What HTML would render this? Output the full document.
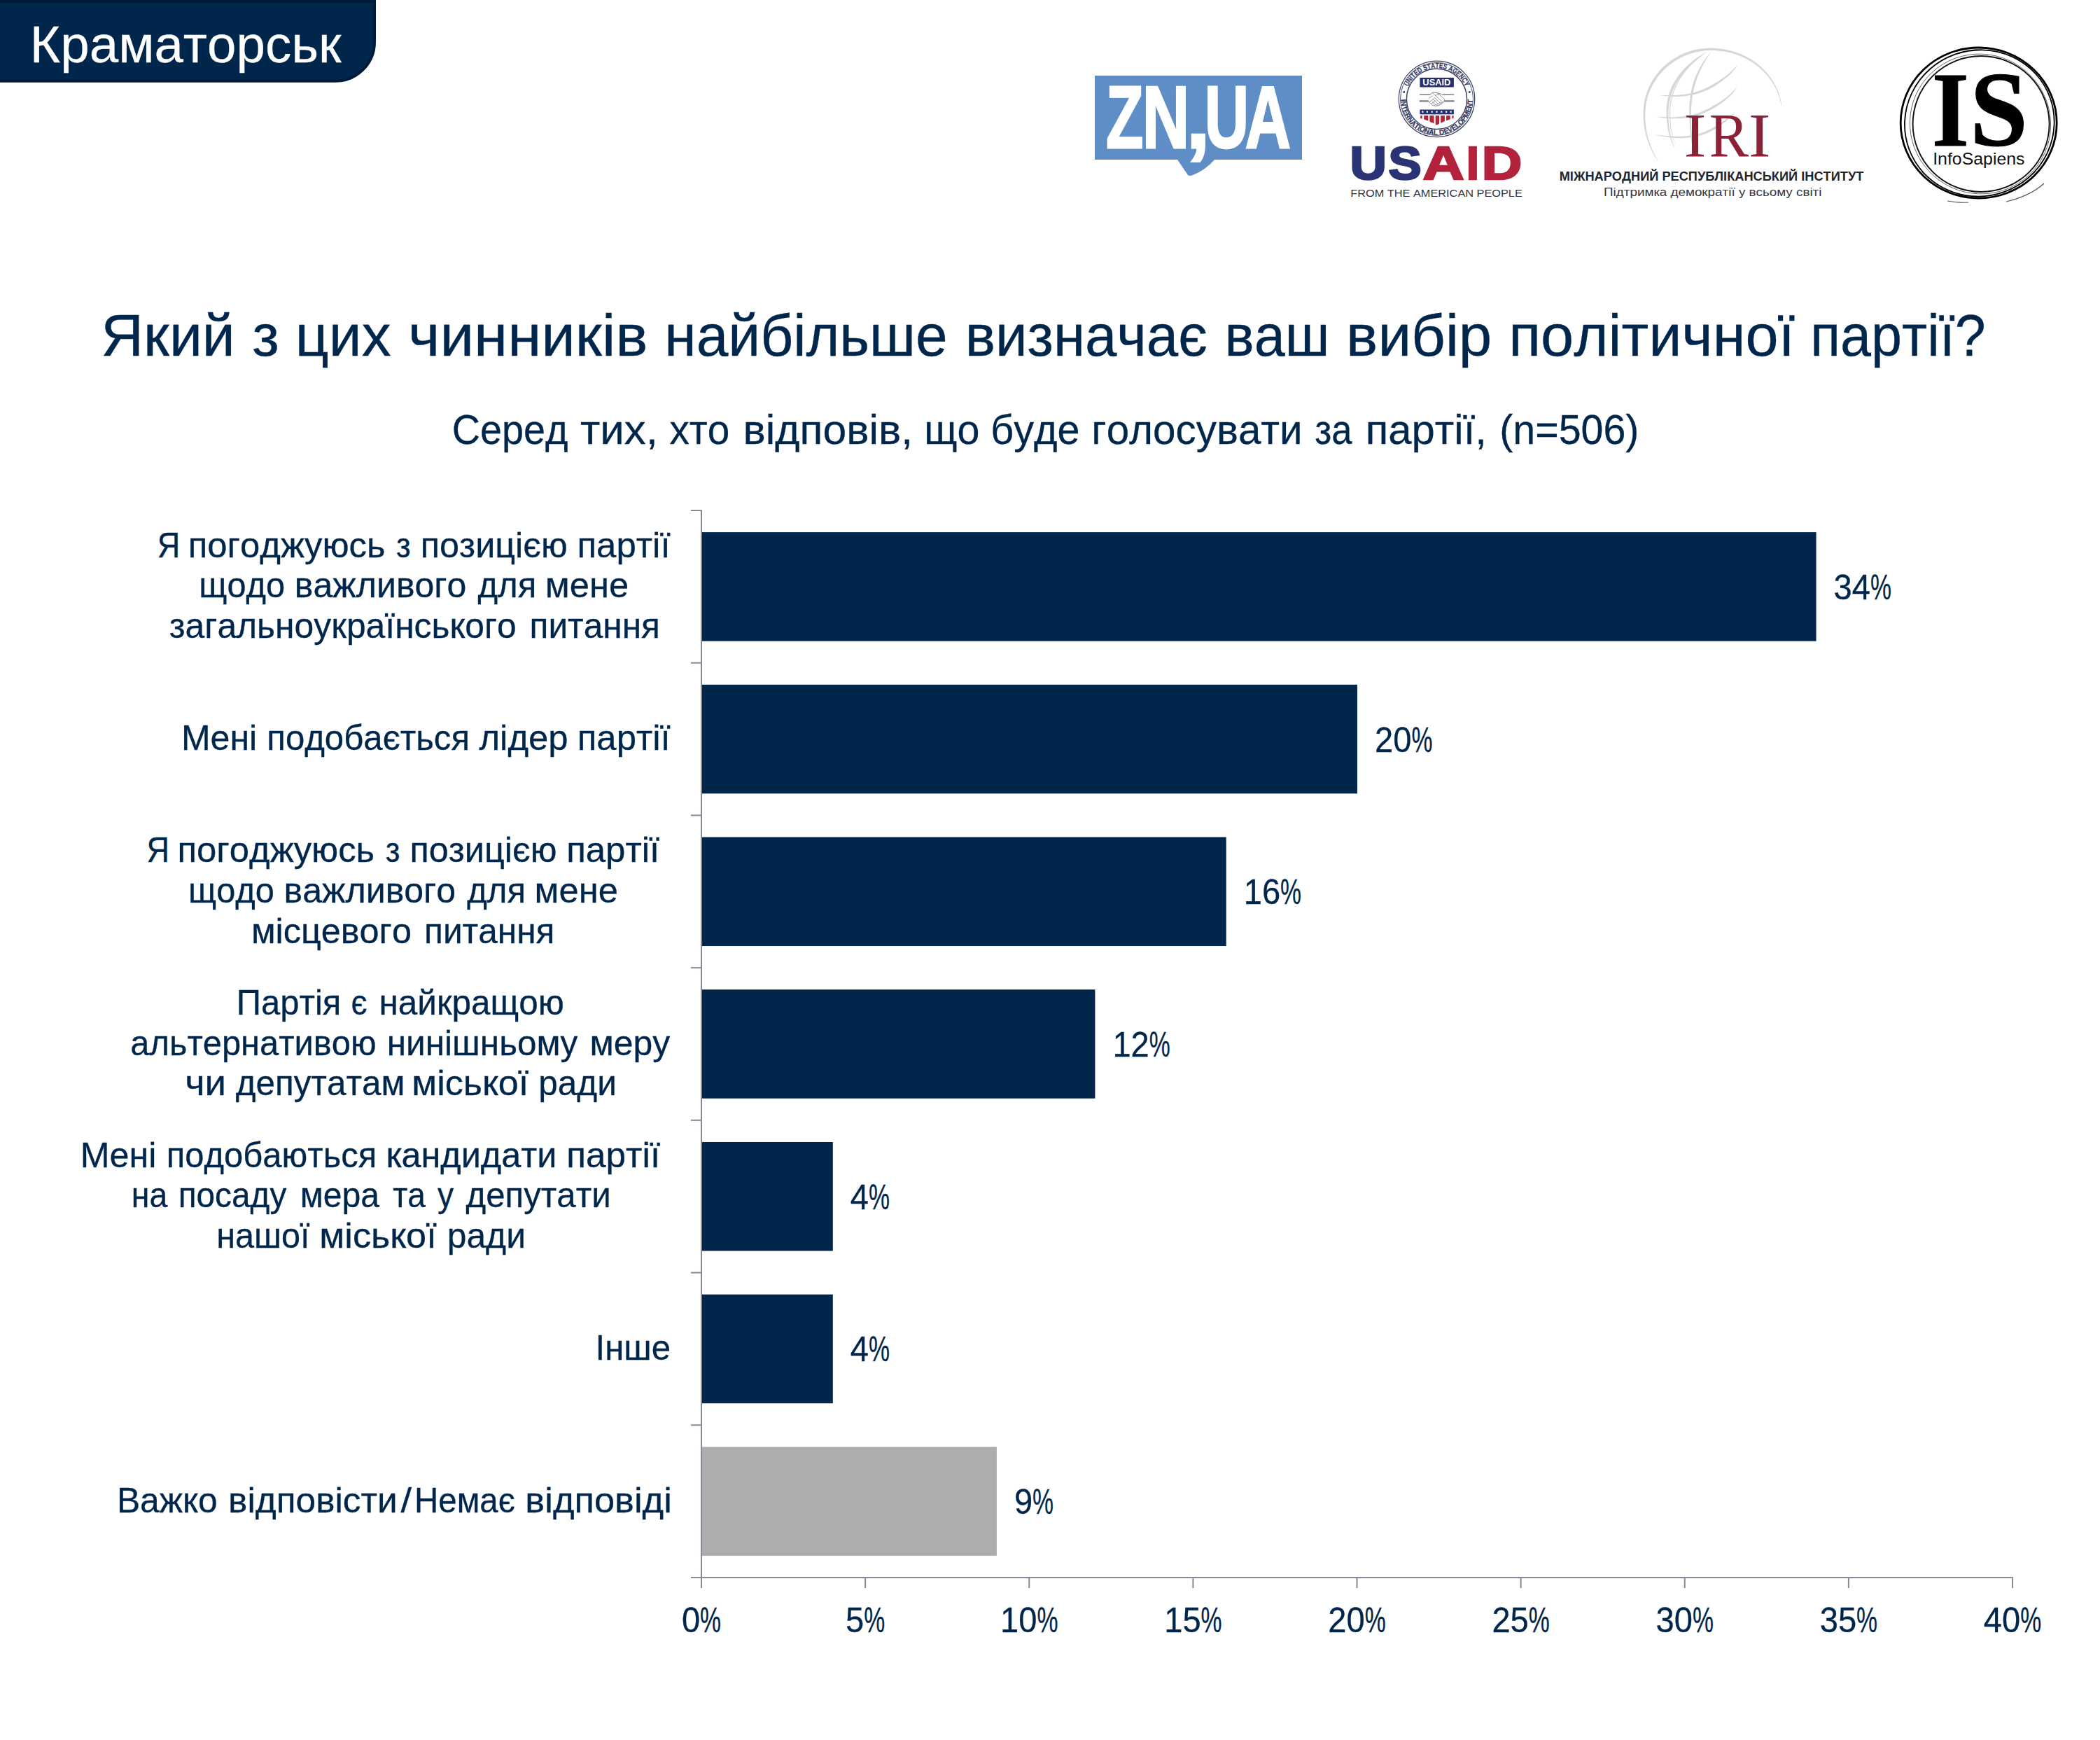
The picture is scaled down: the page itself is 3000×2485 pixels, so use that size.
<!DOCTYPE html>
<html lang="uk"><head><meta charset="utf-8"><title>Краматорськ</title>
<style>
html,body{margin:0;padding:0;background:#fff}
body{width:3000px;height:2485px;overflow:hidden}
svg{display:block}
text{white-space:pre;font-kerning:none;font-variant-ligatures:none}
</style></head><body>
<svg width="3000" height="2485" viewBox="0 0 3000 2485">
<rect width="3000" height="2485" fill="#fff"/>

<path d="M-10 1.9 H535.2 V59.9 A56 56 0 0 1 479.2 115.9 H-10 Z" fill="#00264b" stroke="#001a38" stroke-width="3.6"/>
<text transform="translate(42.78 88.90) scale(0.9942 1)" font-family="'Liberation Sans', sans-serif" font-size="75" fill="#fff" stroke="#fff" stroke-width="0.25">Краматорськ</text>
<text y="507.60" font-family="'Liberation Sans', sans-serif" font-size="83.33" fill="#00264b" stroke="#00264b" stroke-width="0.35"><tspan x="144.36" textLength="191.47" lengthAdjust="spacingAndGlyphs">Який</tspan> <tspan x="360.29" textLength="38.58" lengthAdjust="spacingAndGlyphs">з</tspan> <tspan x="421.89" textLength="136.71" lengthAdjust="spacingAndGlyphs">цих</tspan> <tspan x="583.12" textLength="342.37" lengthAdjust="spacingAndGlyphs">чинників</tspan> <tspan x="949.31" textLength="404.34" lengthAdjust="spacingAndGlyphs">найбільше</tspan> <tspan x="1378.64" textLength="346.25" lengthAdjust="spacingAndGlyphs">визначає</tspan> <tspan x="1749.50" textLength="150.01" lengthAdjust="spacingAndGlyphs">ваш</tspan> <tspan x="1923.09" textLength="208.20" lengthAdjust="spacingAndGlyphs">вибір</tspan> <tspan x="2155.13" textLength="409.00" lengthAdjust="spacingAndGlyphs">політичної</tspan> <tspan x="2586.22" textLength="250.52" lengthAdjust="spacingAndGlyphs">партії?</tspan></text>
<text y="633.60" font-family="'Liberation Sans', sans-serif" font-size="58.33" fill="#00264b" stroke="#00264b" stroke-width="0.3"><tspan x="645.77" textLength="165.78" lengthAdjust="spacingAndGlyphs">Серед</tspan> <tspan x="828.94" textLength="110.91" lengthAdjust="spacingAndGlyphs">тих,</tspan> <tspan x="956.46" textLength="85.92" lengthAdjust="spacingAndGlyphs">хто</tspan> <tspan x="1061.49" textLength="242.56" lengthAdjust="spacingAndGlyphs">відповів,</tspan> <tspan x="1320.32" textLength="79.19" lengthAdjust="spacingAndGlyphs">що</tspan> <tspan x="1415.23" textLength="127.33" lengthAdjust="spacingAndGlyphs">буде</tspan> <tspan x="1559.36" textLength="301.29" lengthAdjust="spacingAndGlyphs">голосувати</tspan> <tspan x="1878.14" textLength="53.27" lengthAdjust="spacingAndGlyphs">за</tspan> <tspan x="1950.74" textLength="173.24" lengthAdjust="spacingAndGlyphs">партії,</tspan> <tspan x="2142.14" textLength="199.31" lengthAdjust="spacingAndGlyphs">(n=506)</tspan></text>
<rect x="1003.00" y="760.10" width="1591.55" height="155.51" fill="#00264b"/>
<rect x="1003.00" y="977.82" width="936.00" height="155.51" fill="#00264b"/>
<rect x="1003.00" y="1195.53" width="748.70" height="155.51" fill="#00264b"/>
<rect x="1003.00" y="1413.24" width="561.40" height="155.51" fill="#00264b"/>
<rect x="1003.00" y="1630.96" width="186.80" height="155.51" fill="#00264b"/>
<rect x="1003.00" y="1848.67" width="186.80" height="155.51" fill="#00264b"/>
<rect x="1003.00" y="2066.39" width="420.92" height="155.51" fill="#adadaf"/>
<g stroke="#868a96" stroke-width="2" fill="none">
<path d="M1002.0 728.0 V2268.0"/>
<path d="M987.0 2253.0 H2876.0"/>
<path d="M987.0 729.00 H1002.0"/>
<path d="M987.0 946.71 H1002.0"/>
<path d="M987.0 1164.43 H1002.0"/>
<path d="M987.0 1382.14 H1002.0"/>
<path d="M987.0 1599.86 H1002.0"/>
<path d="M987.0 1817.57 H1002.0"/>
<path d="M987.0 2035.29 H1002.0"/>
<path d="M1236.12 2253.0 V2268.0"/>
<path d="M1470.25 2253.0 V2268.0"/>
<path d="M1704.38 2253.0 V2268.0"/>
<path d="M1938.50 2253.0 V2268.0"/>
<path d="M2172.62 2253.0 V2268.0"/>
<path d="M2406.75 2253.0 V2268.0"/>
<path d="M2640.88 2253.0 V2268.0"/>
<path d="M2875.00 2253.0 V2268.0"/>
</g>
<text y="2331.0" font-family="'Liberation Sans', sans-serif" font-size="50" fill="#00264b" stroke="#00264b" stroke-width="0.3"><tspan x="973.9" textLength="26.2" lengthAdjust="spacingAndGlyphs">0</tspan><tspan x="1000.1" textLength="30.0" lengthAdjust="spacingAndGlyphs">%</tspan></text>
<text y="2331.0" font-family="'Liberation Sans', sans-serif" font-size="50" fill="#00264b" stroke="#00264b" stroke-width="0.3"><tspan x="1208.0" textLength="26.2" lengthAdjust="spacingAndGlyphs">5</tspan><tspan x="1234.2" textLength="30.0" lengthAdjust="spacingAndGlyphs">%</tspan></text>
<text y="2331.0" font-family="'Liberation Sans', sans-serif" font-size="50" fill="#00264b" stroke="#00264b" stroke-width="0.3"><tspan x="1429.0" textLength="52.4" lengthAdjust="spacingAndGlyphs">10</tspan><tspan x="1481.5" textLength="30.0" lengthAdjust="spacingAndGlyphs">%</tspan></text>
<text y="2331.0" font-family="'Liberation Sans', sans-serif" font-size="50" fill="#00264b" stroke="#00264b" stroke-width="0.3"><tspan x="1663.2" textLength="52.4" lengthAdjust="spacingAndGlyphs">15</tspan><tspan x="1715.6" textLength="30.0" lengthAdjust="spacingAndGlyphs">%</tspan></text>
<text y="2331.0" font-family="'Liberation Sans', sans-serif" font-size="50" fill="#00264b" stroke="#00264b" stroke-width="0.3"><tspan x="1897.3" textLength="52.4" lengthAdjust="spacingAndGlyphs">20</tspan><tspan x="1949.7" textLength="30.0" lengthAdjust="spacingAndGlyphs">%</tspan></text>
<text y="2331.0" font-family="'Liberation Sans', sans-serif" font-size="50" fill="#00264b" stroke="#00264b" stroke-width="0.3"><tspan x="2131.4" textLength="52.4" lengthAdjust="spacingAndGlyphs">25</tspan><tspan x="2183.8" textLength="30.0" lengthAdjust="spacingAndGlyphs">%</tspan></text>
<text y="2331.0" font-family="'Liberation Sans', sans-serif" font-size="50" fill="#00264b" stroke="#00264b" stroke-width="0.3"><tspan x="2365.6" textLength="52.4" lengthAdjust="spacingAndGlyphs">30</tspan><tspan x="2418.0" textLength="30.0" lengthAdjust="spacingAndGlyphs">%</tspan></text>
<text y="2331.0" font-family="'Liberation Sans', sans-serif" font-size="50" fill="#00264b" stroke="#00264b" stroke-width="0.3"><tspan x="2599.7" textLength="52.4" lengthAdjust="spacingAndGlyphs">35</tspan><tspan x="2652.1" textLength="30.0" lengthAdjust="spacingAndGlyphs">%</tspan></text>
<text y="2331.0" font-family="'Liberation Sans', sans-serif" font-size="50" fill="#00264b" stroke="#00264b" stroke-width="0.3"><tspan x="2833.8" textLength="52.4" lengthAdjust="spacingAndGlyphs">40</tspan><tspan x="2886.2" textLength="30.0" lengthAdjust="spacingAndGlyphs">%</tspan></text>
<text y="855.8" font-family="'Liberation Sans', sans-serif" font-size="50" fill="#00264b" stroke="#00264b" stroke-width="0.3"><tspan x="2619.6" textLength="52.4" lengthAdjust="spacingAndGlyphs">34</tspan><tspan x="2672.0" textLength="30.0" lengthAdjust="spacingAndGlyphs">%</tspan></text>
<text y="1073.5" font-family="'Liberation Sans', sans-serif" font-size="50" fill="#00264b" stroke="#00264b" stroke-width="0.3"><tspan x="1964.0" textLength="52.4" lengthAdjust="spacingAndGlyphs">20</tspan><tspan x="2016.4" textLength="30.0" lengthAdjust="spacingAndGlyphs">%</tspan></text>
<text y="1291.2" font-family="'Liberation Sans', sans-serif" font-size="50" fill="#00264b" stroke="#00264b" stroke-width="0.3"><tspan x="1776.7" textLength="52.4" lengthAdjust="spacingAndGlyphs">16</tspan><tspan x="1829.1" textLength="30.0" lengthAdjust="spacingAndGlyphs">%</tspan></text>
<text y="1508.9" font-family="'Liberation Sans', sans-serif" font-size="50" fill="#00264b" stroke="#00264b" stroke-width="0.3"><tspan x="1589.4" textLength="52.4" lengthAdjust="spacingAndGlyphs">12</tspan><tspan x="1641.8" textLength="30.0" lengthAdjust="spacingAndGlyphs">%</tspan></text>
<text y="1726.6" font-family="'Liberation Sans', sans-serif" font-size="50" fill="#00264b" stroke="#00264b" stroke-width="0.3"><tspan x="1214.8" textLength="26.2" lengthAdjust="spacingAndGlyphs">4</tspan><tspan x="1241.0" textLength="30.0" lengthAdjust="spacingAndGlyphs">%</tspan></text>
<text y="1944.3" font-family="'Liberation Sans', sans-serif" font-size="50" fill="#00264b" stroke="#00264b" stroke-width="0.3"><tspan x="1214.8" textLength="26.2" lengthAdjust="spacingAndGlyphs">4</tspan><tspan x="1241.0" textLength="30.0" lengthAdjust="spacingAndGlyphs">%</tspan></text>
<text y="2162.0" font-family="'Liberation Sans', sans-serif" font-size="50" fill="#00264b" stroke="#00264b" stroke-width="0.3"><tspan x="1448.9" textLength="26.2" lengthAdjust="spacingAndGlyphs">9</tspan><tspan x="1475.1" textLength="30.0" lengthAdjust="spacingAndGlyphs">%</tspan></text>
<text y="795.71" font-family="'Liberation Sans', sans-serif" font-size="50" fill="#00264b" stroke="#00264b" stroke-width="0.3"><tspan x="224.83" textLength="32.50" lengthAdjust="spacingAndGlyphs">Я</tspan> <tspan x="268.78" textLength="281.61" lengthAdjust="spacingAndGlyphs">погоджуюсь</tspan> <tspan x="566.02" textLength="20.67" lengthAdjust="spacingAndGlyphs">з</tspan> <tspan x="600.81" textLength="209.90" lengthAdjust="spacingAndGlyphs">позицією</tspan> <tspan x="824.47" textLength="133.13" lengthAdjust="spacingAndGlyphs">партії</tspan></text>
<text y="853.46" font-family="'Liberation Sans', sans-serif" font-size="50" fill="#00264b" stroke="#00264b" stroke-width="0.3"><tspan x="284.32" textLength="122.83" lengthAdjust="spacingAndGlyphs">щодо</tspan> <tspan x="420.83" textLength="245.57" lengthAdjust="spacingAndGlyphs">важливого</tspan> <tspan x="682.42" textLength="83.88" lengthAdjust="spacingAndGlyphs">для</tspan> <tspan x="778.78" textLength="119.37" lengthAdjust="spacingAndGlyphs">мене</tspan></text>
<text y="911.21" font-family="'Liberation Sans', sans-serif" font-size="50" fill="#00264b" stroke="#00264b" stroke-width="0.3"><tspan x="241.71" textLength="496.08" lengthAdjust="spacingAndGlyphs">загальноукраїнського</tspan> <tspan x="756.56" textLength="186.37" lengthAdjust="spacingAndGlyphs">питання</tspan></text>
<text y="1071.17" font-family="'Liberation Sans', sans-serif" font-size="50" fill="#00264b" stroke="#00264b" stroke-width="0.3"><tspan x="258.89" textLength="108.28" lengthAdjust="spacingAndGlyphs">Мені</tspan> <tspan x="381.29" textLength="289.71" lengthAdjust="spacingAndGlyphs">подобається</tspan> <tspan x="684.43" textLength="127.21" lengthAdjust="spacingAndGlyphs">лідер</tspan> <tspan x="824.77" textLength="132.93" lengthAdjust="spacingAndGlyphs">партії</tspan></text>
<text y="1231.14" font-family="'Liberation Sans', sans-serif" font-size="50" fill="#00264b" stroke="#00264b" stroke-width="0.3"><tspan x="209.53" textLength="32.50" lengthAdjust="spacingAndGlyphs">Я</tspan> <tspan x="253.48" textLength="281.61" lengthAdjust="spacingAndGlyphs">погоджуюсь</tspan> <tspan x="550.72" textLength="20.67" lengthAdjust="spacingAndGlyphs">з</tspan> <tspan x="585.51" textLength="209.90" lengthAdjust="spacingAndGlyphs">позицією</tspan> <tspan x="809.17" textLength="133.13" lengthAdjust="spacingAndGlyphs">партії</tspan></text>
<text y="1288.89" font-family="'Liberation Sans', sans-serif" font-size="50" fill="#00264b" stroke="#00264b" stroke-width="0.3"><tspan x="269.12" textLength="122.83" lengthAdjust="spacingAndGlyphs">щодо</tspan> <tspan x="405.63" textLength="245.57" lengthAdjust="spacingAndGlyphs">важливого</tspan> <tspan x="667.22" textLength="83.88" lengthAdjust="spacingAndGlyphs">для</tspan> <tspan x="763.58" textLength="119.37" lengthAdjust="spacingAndGlyphs">мене</tspan></text>
<text y="1346.64" font-family="'Liberation Sans', sans-serif" font-size="50" fill="#00264b" stroke="#00264b" stroke-width="0.3"><tspan x="358.91" textLength="229.01" lengthAdjust="spacingAndGlyphs">місцевого</tspan> <tspan x="606.06" textLength="186.37" lengthAdjust="spacingAndGlyphs">питання</tspan></text>
<text y="1448.85" font-family="'Liberation Sans', sans-serif" font-size="50" fill="#00264b" stroke="#00264b" stroke-width="0.3"><tspan x="337.83" textLength="149.57" lengthAdjust="spacingAndGlyphs">Партія</tspan> <tspan x="501.47" textLength="22.96" lengthAdjust="spacingAndGlyphs">є</tspan> <tspan x="541.47" textLength="264.30" lengthAdjust="spacingAndGlyphs">найкращою</tspan></text>
<text y="1506.60" font-family="'Liberation Sans', sans-serif" font-size="50" fill="#00264b" stroke="#00264b" stroke-width="0.3"><tspan x="186.33" textLength="351.22" lengthAdjust="spacingAndGlyphs">альтернативою</tspan> <tspan x="552.77" textLength="272.53" lengthAdjust="spacingAndGlyphs">нинішньому</tspan> <tspan x="842.44" textLength="114.65" lengthAdjust="spacingAndGlyphs">меру</tspan></text>
<text y="1564.35" font-family="'Liberation Sans', sans-serif" font-size="50" fill="#00264b" stroke="#00264b" stroke-width="0.3"><tspan x="264.15" textLength="58.82" lengthAdjust="spacingAndGlyphs">чи</tspan> <tspan x="336.72" textLength="241.68" lengthAdjust="spacingAndGlyphs">депутатам</tspan> <tspan x="588.28" textLength="167.03" lengthAdjust="spacingAndGlyphs">міської</tspan> <tspan x="769.31" textLength="111.62" lengthAdjust="spacingAndGlyphs">ради</tspan></text>
<text y="1666.56" font-family="'Liberation Sans', sans-serif" font-size="50" fill="#00264b" stroke="#00264b" stroke-width="0.3"><tspan x="114.78" textLength="108.60" lengthAdjust="spacingAndGlyphs">Мені</tspan> <tspan x="237.81" textLength="300.39" lengthAdjust="spacingAndGlyphs">подобаються</tspan> <tspan x="551.40" textLength="244.09" lengthAdjust="spacingAndGlyphs">кандидати</tspan> <tspan x="809.24" textLength="133.96" lengthAdjust="spacingAndGlyphs">партії</tspan></text>
<text y="1724.31" font-family="'Liberation Sans', sans-serif" font-size="50" fill="#00264b" stroke="#00264b" stroke-width="0.3"><tspan x="187.78" textLength="51.42" lengthAdjust="spacingAndGlyphs">на</tspan> <tspan x="254.69" textLength="154.60" lengthAdjust="spacingAndGlyphs">посаду</tspan> <tspan x="428.66" textLength="113.34" lengthAdjust="spacingAndGlyphs">мера</tspan> <tspan x="561.21" textLength="46.79" lengthAdjust="spacingAndGlyphs">та</tspan> <tspan x="625.09" textLength="23.00" lengthAdjust="spacingAndGlyphs">у</tspan> <tspan x="665.52" textLength="207.19" lengthAdjust="spacingAndGlyphs">депутати</tspan></text>
<text y="1782.06" font-family="'Liberation Sans', sans-serif" font-size="50" fill="#00264b" stroke="#00264b" stroke-width="0.3"><tspan x="309.13" textLength="133.34" lengthAdjust="spacingAndGlyphs">нашої</tspan> <tspan x="456.38" textLength="167.33" lengthAdjust="spacingAndGlyphs">міської</tspan> <tspan x="638.79" textLength="112.16" lengthAdjust="spacingAndGlyphs">ради</tspan></text>
<text y="1942.03" font-family="'Liberation Sans', sans-serif" font-size="50" fill="#00264b" stroke="#00264b" stroke-width="0.3"><tspan x="850.57" textLength="107.52" lengthAdjust="spacingAndGlyphs">Інше</tspan></text>
<text y="2159.74" font-family="'Liberation Sans', sans-serif" font-size="50" fill="#00264b" stroke="#00264b" stroke-width="0.3"><tspan x="166.92" textLength="143.67" lengthAdjust="spacingAndGlyphs">Важко</tspan> <tspan x="326.14" textLength="241.62" lengthAdjust="spacingAndGlyphs">відповісти</tspan><tspan x="572.62" textLength="15.56" lengthAdjust="spacingAndGlyphs">/</tspan><tspan x="592.01" textLength="143.97" lengthAdjust="spacingAndGlyphs">Немає</tspan> <tspan x="750.36" textLength="209.47" lengthAdjust="spacingAndGlyphs">відповіді</tspan></text>
<g id="znua"><path d="M1564 108 H1860 V228 H1735 Q1722 243 1704 250 Q1700 252 1697 250 L1682 228 H1564 Z" fill="#5f8dc6"/>
<text y="210.60" font-family="'Liberation Sans', sans-serif" font-size="125.3" fill="#fff" font-weight="bold" stroke="#fff" stroke-width="2.8" stroke-linejoin="miter"><tspan x="1580.09" textLength="53.42" lengthAdjust="spacingAndGlyphs">Z</tspan><tspan x="1631.74" textLength="67.56" lengthAdjust="spacingAndGlyphs">N</tspan><tspan x="1694.60" textLength="34.37" lengthAdjust="spacingAndGlyphs">,</tspan><tspan x="1720.73" textLength="63.32" lengthAdjust="spacingAndGlyphs">U</tspan><tspan x="1778.75" textLength="65.23" lengthAdjust="spacingAndGlyphs">A</tspan></text>
</g>
<g id="usaid">
<circle cx="2052.5" cy="141.4" r="54.2" fill="none" stroke="#343a60" stroke-width="1.2"/>
<circle cx="2052.5" cy="141.4" r="52" fill="none" stroke="#343a60" stroke-width="0.9"/>
<circle cx="2052.5" cy="141.4" r="43.1" fill="none" stroke="#343a60" stroke-width="1.4"/>
<defs><path id="arcTop" d="M2008.1 141.4 A44.4 44.4 0 0 1 2096.9 141.4"/>
<path id="arcBot" d="M2001.2 141.4 A51.3 51.3 0 0 0 2103.8 141.4"/></defs>
<text font-family="'Liberation Sans', sans-serif" font-weight="bold" font-size="10.3" fill="#343a60" stroke="#343a60" stroke-width="0.25" text-anchor="middle" textLength="103.1" lengthAdjust="spacingAndGlyphs"><textPath href="#arcTop" startOffset="50%">UNITED STATES AGENCY</textPath></text>
<text font-family="'Liberation Sans', sans-serif" font-weight="bold" font-size="10.3" fill="#343a60" stroke="#343a60" stroke-width="0.25" text-anchor="middle" textLength="159.4" lengthAdjust="spacingAndGlyphs"><textPath href="#arcBot" startOffset="50%">INTERNATIONAL DEVELOPMENT</textPath></text>
<rect x="2004.4" y="130.2" width="2.6" height="2.6" fill="#343a60"/>
<rect x="2098.0" y="130.2" width="2.6" height="2.6" fill="#343a60"/>
<rect x="2028.4" y="110.9" width="48.5" height="13.6" fill="#26306f"/>
<text transform="translate(2032.33 122.40) scale(1.0745 1)" font-family="'Liberation Sans', sans-serif" font-size="12" fill="#fff" font-weight="bold">USAID</text>
<g fill="none" stroke="#7d7f86" stroke-linecap="round" stroke-linejoin="round">
<path d="M2028.6 135 H2043 M2062 135 H2076.8" stroke-width="1.3"/>
<path d="M2028.6 144.3 H2040 M2064 144.3 H2076.8" stroke-width="2.2"/>
<path d="M2043 135 L2046.5 132.2 Q2050 131.4 2053 132.6 L2059.5 134.6 L2062 135 M2040 144.3 L2043.5 147.6 Q2046.5 151.8 2051 151.2 Q2055.5 151.6 2058.5 148.6 L2064 144.3" stroke-width="1"/>
<path d="M2046.5 132.2 L2050.5 136.4 L2056 134.2 M2053 132.6 L2063.5 141.5 Q2064.6 143.2 2062.8 144.3 M2050.5 136.4 L2060.5 145.6 Q2059.6 148 2057.4 146.8 M2048.8 139 L2057.4 146.8 Q2056.6 149.6 2054.2 148.2 M2047.2 141.6 L2054.2 148.2 Q2053 150.8 2050.8 149.6 L2046.5 146 M2041.5 140 L2046 137 M2042.5 145.5 L2048 141 M2044.8 148 L2049.5 144.2" stroke-width="0.85"/>
</g>
<rect x="2028.4" y="156.5" width="48.5" height="6.8" fill="#26306f"/>
<rect x="2031.3" y="158.6" width="2.2" height="2.2" fill="#fff"/>
<rect x="2037.8" y="158.6" width="2.2" height="2.2" fill="#fff"/>
<rect x="2044.6" y="158.6" width="2.2" height="2.2" fill="#fff"/>
<rect x="2051.4" y="158.6" width="2.2" height="2.2" fill="#fff"/>
<rect x="2058.2" y="158.6" width="2.2" height="2.2" fill="#fff"/>
<rect x="2065.0" y="158.6" width="2.2" height="2.2" fill="#fff"/>
<rect x="2071.5" y="158.6" width="2.2" height="2.2" fill="#fff"/>
<defs><clipPath id="shieldClip"><path d="M2028.4 165 H2076.9 V168.8 Q2066 171.5 2052.6 178.6 Q2039 171.5 2028.4 168.8 Z"/></clipPath></defs>
<g clip-path="url(#shieldClip)" fill="#b3223b">
<rect x="2029.2" y="165" width="2.5" height="15"/>
<rect x="2034.2" y="165" width="6.1" height="15"/>
<rect x="2042.4" y="165" width="6.1" height="15"/>
<rect x="2050.7" y="165" width="5.4" height="15"/>
<rect x="2058.2" y="165" width="5.7" height="15"/>
<rect x="2066.1" y="165" width="5.7" height="15"/>
<rect x="2074.4" y="165" width="2.2" height="15"/>
</g>
<text y="255.80" font-family="'Liberation Sans', sans-serif" font-size="67.4" fill="#2a3475" font-weight="bold" stroke="#2a3475" stroke-width="2.6" stroke-linejoin="miter"><tspan x="1928.64" textLength="52.38" lengthAdjust="spacingAndGlyphs">U</tspan><tspan x="1983.56" textLength="47.20" lengthAdjust="spacingAndGlyphs">S</tspan><tspan fill="#b3223b" stroke="#b3223b"><tspan x="2032.88" textLength="58.66" lengthAdjust="spacingAndGlyphs">A</tspan><tspan x="2094.79" textLength="18.32" lengthAdjust="spacingAndGlyphs">I</tspan><tspan x="2116.68" textLength="57.46" lengthAdjust="spacingAndGlyphs">D</tspan></tspan></text>
<text transform="translate(1929.36 281.40) scale(1.1652 1)" font-family="'Liberation Sans', sans-serif" font-size="14" fill="#2d3142">FROM THE AMERICAN PEOPLE</text>
</g>
<g id="iri"><g fill="#d4d6d9" stroke="none">
<path d="M2369.2 229.9 L2365.6 224.2 L2362.4 218.2 L2359.6 212.0 L2357.1 205.5 L2355.0 198.8 L2353.2 191.9 L2351.9 184.9 L2350.9 177.7 L2350.4 170.3 L2350.3 162.9 L2350.6 155.8 L2351.5 148.7 L2353.0 141.7 L2355.1 134.8 L2357.7 128.1 L2360.8 121.6 L2364.4 115.4 L2368.5 109.5 L2373.1 103.9 L2378.1 98.7 L2383.5 93.9 L2389.3 89.5 L2395.4 85.5 L2401.8 82.0 L2408.5 79.0 L2415.4 76.5 L2422.4 74.6 L2429.6 73.2 L2436.9 72.3 L2444.3 72.0 L2451.5 72.2 L2458.7 72.9 L2465.9 74.0 L2472.9 75.6 L2479.8 77.7 L2486.5 80.2 L2493.0 83.2 L2499.2 86.6 L2505.2 90.3 L2510.8 94.5 L2516.1 99.0 L2521.0 103.9 L2525.6 109.0 L2529.7 114.5 L2533.4 120.2 L2536.6 126.1 L2539.4 132.3 L2541.7 138.6 L2543.5 145.1 L2544.8 151.6 L2545.2 151.6 L2544.3 144.9 L2542.7 138.3 L2540.6 131.8 L2538.0 125.5 L2534.8 119.4 L2531.2 113.4 L2527.1 107.8 L2522.6 102.4 L2517.7 97.3 L2512.3 92.6 L2506.6 88.2 L2500.6 84.3 L2494.2 80.7 L2487.6 77.6 L2480.7 74.9 L2473.7 72.7 L2466.5 70.9 L2459.2 69.7 L2451.8 68.9 L2444.3 68.6 L2436.7 68.9 L2429.1 69.7 L2421.6 71.1 L2414.3 73.1 L2407.1 75.7 L2400.2 78.8 L2393.5 82.4 L2387.2 86.5 L2381.2 91.1 L2375.6 96.1 L2370.4 101.6 L2365.7 107.4 L2361.5 113.6 L2357.8 120.1 L2354.6 126.8 L2352.1 133.8 L2350.0 140.9 L2348.6 148.2 L2347.8 155.5 L2347.5 162.9 L2347.8 170.5 L2348.5 177.9 L2349.7 185.3 L2351.2 192.4 L2353.2 199.4 L2355.5 206.1 L2358.3 212.6 L2361.4 218.8 L2364.9 224.7 L2368.8 230.1Z"/>
<path d="M2437.4 74.3 L2430.3 78.4 L2423.8 82.8 L2417.7 87.5 L2412.1 92.3 L2406.9 97.3 L2402.2 102.4 L2398.0 107.7 L2394.3 113.2 L2391.0 118.7 L2388.1 124.4 L2385.8 130.1 L2383.8 136.0 L2382.3 141.9 L2381.3 147.9 L2380.7 153.9 L2380.6 160.0 L2380.7 165.9 L2381.1 171.6 L2381.7 177.1 L2382.4 182.4 L2383.4 187.4 L2384.6 192.3 L2386.0 197.0 L2387.7 201.6 L2389.6 205.9 L2391.8 210.1 L2392.2 209.9 L2390.4 205.6 L2388.8 201.1 L2387.5 196.6 L2386.3 191.9 L2385.3 187.1 L2384.6 182.0 L2384.0 176.8 L2383.6 171.5 L2383.4 165.8 L2383.4 160.0 L2383.7 154.1 L2384.4 148.3 L2385.5 142.6 L2387.0 136.9 L2388.9 131.3 L2391.2 125.8 L2394.0 120.3 L2397.1 115.0 L2400.7 109.7 L2404.7 104.5 L2409.1 99.3 L2413.9 94.3 L2419.2 89.3 L2424.9 84.4 L2431.1 79.5 L2437.6 74.7Z"/>
<path d="M2432.9 77.9 L2427.2 82.0 L2421.8 86.3 L2416.8 90.8 L2412.1 95.5 L2407.8 100.4 L2403.9 105.3 L2400.3 110.4 L2397.0 115.7 L2394.2 121.0 L2391.7 126.4 L2389.6 131.9 L2387.9 137.4 L2386.5 143.0 L2385.6 148.7 L2385.0 154.3 L2384.9 160.0 L2385.0 165.8 L2385.2 171.3 L2385.6 176.5 L2386.2 181.4 L2386.9 186.0 L2387.8 190.3 L2388.8 194.3 L2390.0 198.1 L2391.3 201.7 L2392.9 205.1 L2393.1 204.9 L2391.8 201.5 L2390.6 197.9 L2389.5 194.1 L2388.6 190.1 L2387.8 185.8 L2387.2 181.2 L2386.7 176.4 L2386.4 171.3 L2386.2 165.8 L2386.1 160.0 L2386.4 154.4 L2386.9 148.9 L2387.9 143.3 L2389.2 137.8 L2390.9 132.3 L2393.0 126.9 L2395.4 121.6 L2398.2 116.3 L2401.3 111.1 L2404.8 106.1 L2408.7 101.1 L2412.9 96.2 L2417.4 91.5 L2422.3 86.9 L2427.5 82.5 L2433.1 78.1Z"/>
<path d="M2443.3 75.4 L2439.5 79.8 L2436.0 84.4 L2432.7 89.1 L2429.8 94.0 L2427.0 98.9 L2424.5 104.0 L2422.3 109.2 L2420.3 114.5 L2418.6 119.8 L2417.1 125.3 L2415.9 130.9 L2414.9 136.5 L2414.2 142.3 L2413.6 148.1 L2413.3 154.0 L2413.3 160.0 L2413.4 166.0 L2413.6 172.0 L2413.9 178.1 L2414.3 184.1 L2414.8 190.1 L2415.5 196.1 L2416.3 202.1 L2417.3 208.1 L2418.4 214.1 L2419.8 220.0 L2420.2 220.0 L2419.3 213.9 L2418.5 207.9 L2417.8 201.9 L2417.2 195.9 L2416.8 189.9 L2416.4 183.9 L2416.1 177.9 L2416.0 172.0 L2415.9 166.0 L2415.9 160.0 L2416.1 154.1 L2416.5 148.3 L2417.0 142.6 L2417.8 137.0 L2418.8 131.5 L2420.1 126.0 L2421.5 120.7 L2423.1 115.4 L2425.0 110.2 L2427.0 105.1 L2429.3 100.1 L2431.8 95.1 L2434.4 90.2 L2437.3 85.3 L2440.4 80.5 L2443.7 75.6Z"/>
<path d="M2371.7 136.2 L2377.7 137.1 L2383.6 137.6 L2389.4 137.9 L2395.1 137.9 L2400.7 137.7 L2406.2 137.2 L2411.6 136.6 L2416.8 135.7 L2421.9 134.5 L2426.9 133.2 L2431.7 131.6 L2436.3 129.7 L2440.8 127.7 L2445.1 125.4 L2449.4 122.9 L2453.5 120.3 L2457.4 117.7 L2461.0 115.1 L2464.4 112.5 L2467.6 109.8 L2470.5 107.2 L2473.3 104.4 L2475.8 101.7 L2478.2 98.9 L2480.3 96.1 L2482.2 93.2 L2481.8 93.0 L2479.5 95.5 L2477.1 98.0 L2474.6 100.5 L2471.9 103.0 L2469.1 105.5 L2466.0 107.9 L2462.8 110.4 L2459.3 112.8 L2455.7 115.2 L2451.9 117.7 L2447.8 120.1 L2443.5 122.6 L2439.4 124.8 L2435.1 126.8 L2430.6 128.6 L2426.0 130.3 L2421.2 131.7 L2416.2 132.9 L2411.2 133.9 L2405.9 134.8 L2400.6 135.4 L2395.1 135.8 L2389.4 136.1 L2383.6 136.1 L2377.8 136.0 L2371.7 135.8Z"/>
<path d="M2367.7 167.1 L2374.5 168.2 L2381.1 168.9 L2387.5 169.2 L2393.7 169.3 L2399.7 169.1 L2405.5 168.7 L2411.1 168.0 L2416.5 167.0 L2421.8 165.8 L2426.8 164.3 L2431.7 162.6 L2436.3 160.7 L2440.8 158.6 L2445.1 156.3 L2449.4 153.8 L2453.4 151.3 L2457.2 148.8 L2460.7 146.3 L2464.0 143.8 L2467.0 141.3 L2469.9 138.7 L2472.5 136.2 L2474.9 133.5 L2477.2 130.8 L2479.2 128.1 L2481.1 125.2 L2480.7 125.0 L2478.5 127.5 L2476.2 130.0 L2473.7 132.4 L2471.2 134.8 L2468.4 137.1 L2465.5 139.5 L2462.4 141.8 L2459.1 144.1 L2455.6 146.4 L2451.8 148.7 L2447.8 151.1 L2443.5 153.5 L2439.4 155.8 L2435.0 157.8 L2430.5 159.7 L2425.8 161.4 L2421.0 162.9 L2415.9 164.2 L2410.6 165.2 L2405.2 166.1 L2399.5 166.8 L2393.6 167.2 L2387.5 167.4 L2381.1 167.3 L2374.6 167.1 L2367.7 166.7Z"/>
<path d="M2365.4 192.8 L2372.6 194.4 L2379.6 195.6 L2386.3 196.4 L2392.8 197.0 L2399.0 197.2 L2405.0 197.2 L2410.7 196.8 L2416.3 196.2 L2421.6 195.3 L2426.7 194.2 L2431.6 192.8 L2436.2 191.2 L2440.7 189.2 L2445.0 187.1 L2448.9 184.9 L2452.5 182.7 L2455.8 180.5 L2459.0 178.3 L2462.0 176.1 L2464.7 173.9 L2467.3 171.7 L2469.8 169.4 L2472.1 167.2 L2474.3 164.9 L2476.3 162.6 L2478.1 160.1 L2477.9 159.9 L2475.6 161.9 L2473.4 164.0 L2471.0 166.0 L2468.6 168.0 L2466.0 170.1 L2463.3 172.1 L2460.5 174.1 L2457.5 176.1 L2454.3 178.1 L2450.9 180.1 L2447.3 182.2 L2443.6 184.3 L2439.4 186.3 L2435.1 188.2 L2430.6 189.8 L2425.9 191.2 L2421.0 192.3 L2415.8 193.3 L2410.5 194.0 L2404.8 194.5 L2399.0 194.7 L2392.8 194.7 L2386.4 194.5 L2379.7 194.0 L2372.8 193.3 L2365.4 192.4Z"/>
</g>
<text y="223.40" font-family="'Liberation Serif', serif" font-size="89.8" fill="#8c2238"><tspan x="2405.43" textLength="31.94" lengthAdjust="spacingAndGlyphs">I</tspan><tspan x="2441.87" textLength="56.25" lengthAdjust="spacingAndGlyphs">R</tspan><tspan x="2498.00" textLength="31.30" lengthAdjust="spacingAndGlyphs">I</tspan></text>
<text transform="translate(2227.68 258.40) scale(1.0243 1)" font-family="'Liberation Sans', sans-serif" font-size="17.8" fill="#22252f" font-weight="bold">МІЖНАРОДНИЙ РЕСПУБЛІКАНСЬКИЙ ІНСТИТУТ</text>
<text transform="translate(2291.07 279.80) scale(1.1792 1)" font-family="'Liberation Sans', sans-serif" font-size="16" fill="#33353c">Підтримка демократії у всьому світі</text>
</g>
<g id="is"><g fill="none" stroke="#000">
<ellipse cx="2826.7" cy="175.5" rx="111.5" ry="107.5" stroke-width="2.8"/>
<ellipse cx="2827.8" cy="175.9" rx="107.2" ry="104.3" stroke-width="1.8" transform="rotate(-20 2827.8 175.9)"/>
<ellipse cx="2830.1" cy="177" rx="97.5" ry="97" stroke-width="1.9" stroke="#111"/>
<ellipse cx="2829" cy="177" rx="101" ry="99.5" stroke-width="0.8" stroke="#555" transform="rotate(30 2829 177)"/>
<path d="M2782 287 Q2800 290 2812 289 M2866 288 Q2900 280 2920 262" stroke-width="1.2" stroke="#555"/>
</g>
<text y="207.90" font-family="'Liberation Serif', serif" font-size="153" fill="#000" font-weight="bold" stroke="#000" stroke-width="1.2"><tspan x="2759.93" textLength="52.73" lengthAdjust="spacingAndGlyphs">I</tspan><tspan x="2814.21" textLength="82.50" lengthAdjust="spacingAndGlyphs">S</tspan></text>
<text transform="translate(2761.20 234.50) scale(1.0816 1)" font-family="'Liberation Sans', sans-serif" font-size="23" fill="#111">InfoSapiens</text>
</g>
</svg></body></html>
